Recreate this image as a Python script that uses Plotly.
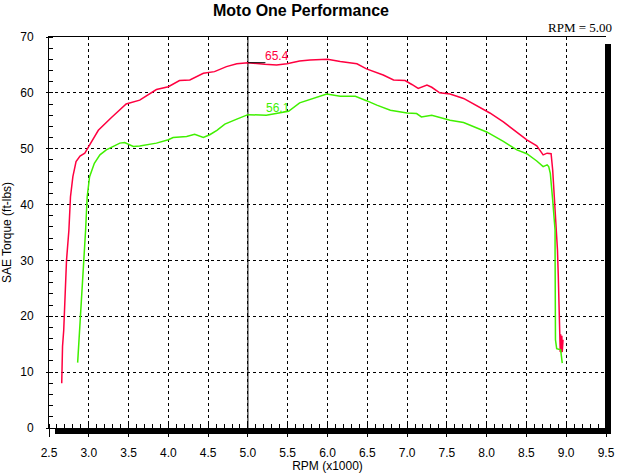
import plotly.graph_objects as go

# ---- data ----
rpm_red = [2.66, 2.67, 2.685, 2.70, 2.72, 2.75, 2.77, 2.80, 2.84, 2.89, 2.95, 3.00, 3.12, 3.285,
           3.47, 3.64, 3.85, 4.00, 4.14, 4.27, 4.44, 4.58, 4.73, 4.86, 5.00, 5.21, 5.36, 5.49,
           5.65, 5.78, 6.00, 6.16, 6.37, 6.49, 6.70, 6.83, 6.975, 7.06, 7.14, 7.25, 7.31, 7.41,
           7.54, 7.71, 7.92, 8.04, 8.21, 8.38, 8.505, 8.63, 8.71, 8.76, 8.81, 8.83, 8.85, 8.88,
           8.89, 8.90, 8.915, 8.925, 8.93, 8.94, 8.945, 8.95, 8.96]
torque_red = [8.0, 14.6, 17.5, 24.0, 30.0, 35.4, 41.4, 45.0, 47.7, 48.7, 49.2, 50.4, 53.3, 55.6,
              58.0, 58.7, 60.6, 61.1, 62.2, 62.3, 63.5, 63.8, 64.7, 65.2, 65.4, 65.1, 65.0, 65.2,
              65.7, 65.9, 66.0, 65.6, 65.2, 64.3, 63.2, 62.3, 62.2, 61.5, 60.8, 61.4, 61.0, 60.0,
              59.8, 59.0, 57.4, 56.4, 54.8, 53.0, 51.6, 50.5, 48.9, 49.2, 49.1, 46.2, 41.4, 35.4,
              31.9, 27.4, 16.3, 13.6, 16.8, 13.5, 16.5, 13.6, 15.8]

rpm_green = [2.86, 2.87, 2.895, 2.92, 2.95, 2.96, 2.98, 3.01, 3.07, 3.14, 3.22, 3.39, 3.45, 3.56,
             3.64, 3.85, 4.00, 4.06, 4.23, 4.33, 4.44, 4.52, 4.61, 4.71, 4.86, 5.00, 5.23, 5.42,
             5.51, 5.65, 5.78, 5.99, 6.16, 6.35, 6.49, 6.62, 6.79, 7.00, 7.12, 7.18, 7.31, 7.41,
             7.54, 7.71, 7.88, 8.00, 8.21, 8.38, 8.505, 8.63, 8.71, 8.76, 8.78, 8.80, 8.83, 8.86,
             8.86, 8.865, 8.88, 8.93, 8.95]
torque_green = [11.7, 14.0, 19.9, 25.9, 31.9, 35.4, 41.4, 45.0, 47.4, 48.9, 49.8, 51.0, 51.1, 50.4,
                50.5, 51.0, 51.6, 52.0, 52.2, 52.6, 52.0, 52.5, 53.3, 54.4, 55.3, 56.1, 56.0, 56.4,
                56.7, 58.2, 58.8, 59.8, 59.4, 59.4, 58.6, 57.8, 56.9, 56.4, 56.3, 55.7, 56.0, 55.6,
                55.1, 54.7, 53.7, 53.0, 51.3, 49.8, 49.1, 47.8, 46.8, 47.1, 46.8, 45.6, 40.8, 35.4,
                31.9, 15.8, 14.2, 14.0, 11.6]

cursor_rpm = 5.00
cursor_red = 65.4
cursor_green = 56.1
x_ticks = [2.5, 3.0, 3.5, 4.0, 4.5, 5.0, 5.5, 6.0, 6.5, 7.0, 7.5, 8.0, 8.5, 9.0, 9.5]
y_ticks = [0, 10, 20, 30, 40, 50, 60, 70]

RED = "#FF0040"
GREEN = "#40F000"

fig = go.Figure()
fig.add_trace(go.Scatter(x=rpm_red, y=torque_red, mode="lines",
                         line=dict(color=RED, width=1.5), showlegend=False, hoverinfo="skip"))
fig.add_trace(go.Scatter(x=rpm_green, y=torque_green, mode="lines",
                         line=dict(color=GREEN, width=1.5), showlegend=False, hoverinfo="skip"))

font = "Liberation Sans, Arial, sans-serif"
PW, PH = 557.0, 391.0  # plot area size in px

fig.update_layout(
    template="none",
    width=620, height=473,
    margin=dict(l=49, r=14, t=37, b=45, autoexpand=False),
    paper_bgcolor="white", plot_bgcolor="white",
    font=dict(family=font, size=12, color="black"),
    title=dict(text="<b>Moto One Performance</b>", x=301 / 620, xref="container", xanchor="center",
               y=1 - 10 / 473, yref="container", yanchor="middle",
               font=dict(family=font, size=16, color="black")),
    xaxis=dict(range=[2.5, 9.5], tickvals=x_ticks, ticktext=[f"{v:.1f}" for v in x_ticks],
               automargin=False,
               showgrid=True, gridcolor="black", griddash="3px,3px", gridwidth=1,
               showline=True, linecolor="black", linewidth=1, mirror=True,
               ticks="outside", ticklen=8, tickcolor="black", ticklabelstandoff=6,
               minor=dict(dtick=0.1, tick0=2.5, ticks="inside", ticklen=4, tickcolor="black", showgrid=False),
               zeroline=False,
               title=dict(text="RPM (x1000)", standoff=2, font=dict(size=12))),
    yaxis=dict(range=[0, 70], tickvals=y_ticks,
               automargin=False,
               showgrid=True, gridcolor="black", griddash="3px,3px", gridwidth=1,
               showline=True, linecolor="black", linewidth=1,
               ticks="outside", ticklen=2, tickcolor="black", ticklabelstandoff=10,
               minor=dict(dtick=2, ticks="inside", ticklen=4, tickcolor="black", showgrid=False),
               zeroline=False,
               title=dict(text="SAE Torque (ft-lbs)", standoff=6, font=dict(size=12))),
)

# cursor line and marker
fig.add_shape(type="line", xref="x", yref="paper", x0=cursor_rpm, x1=cursor_rpm, y0=0, y1=1,
              line=dict(color="black", width=1), layer="below")
fig.add_shape(type="line", xref="x", yref="y", x0=cursor_rpm, x1=cursor_rpm + 0.22,
              y0=cursor_red, y1=cursor_red, line=dict(color="black", width=1), layer="above")

fig.add_annotation(x=cursor_rpm, y=cursor_red, xref="x", yref="y", text=f"{cursor_red:.1f}",
                   showarrow=False, xanchor="left", yanchor="bottom", xshift=15, yshift=-2,
                   font=dict(color=RED, size=12, family=font))
fig.add_annotation(x=cursor_rpm, y=cursor_green, xref="x", yref="y", text=f"{cursor_green:.1f}",
                   showarrow=False, xanchor="left", yanchor="bottom", xshift=16, yshift=-2,
                   font=dict(color=GREEN, size=12, family=font))
fig.add_annotation(x=1, y=1, xref="paper", yref="paper", text=f"RPM = {cursor_rpm:.2f}",
                   showarrow=False, xanchor="right", yanchor="middle", xshift=8, yshift=10,
                   font=dict(family="Liberation Serif, Times New Roman, serif", size=13, color="black"))

# 3D shadow bars on right and bottom of plot frame
fig.add_shape(type="rect", xref="paper", yref="paper",
              x0=1 - 1 / PW, x1=1 + 5 / PW, y0=-6 / PH, y1=1 - 7 / PH,
              fillcolor="black", line=dict(width=0), layer="above")
fig.add_shape(type="rect", xref="paper", yref="paper",
              x0=6 / PW, x1=1 + 5 / PW, y0=-6 / PH, y1=0,
              fillcolor="black", line=dict(width=0), layer="above")

fig.write_html("out.html", config={"displayModeBar": False},
               post_script="document.body.style.margin='0';document.body.style.overflow='hidden';")
